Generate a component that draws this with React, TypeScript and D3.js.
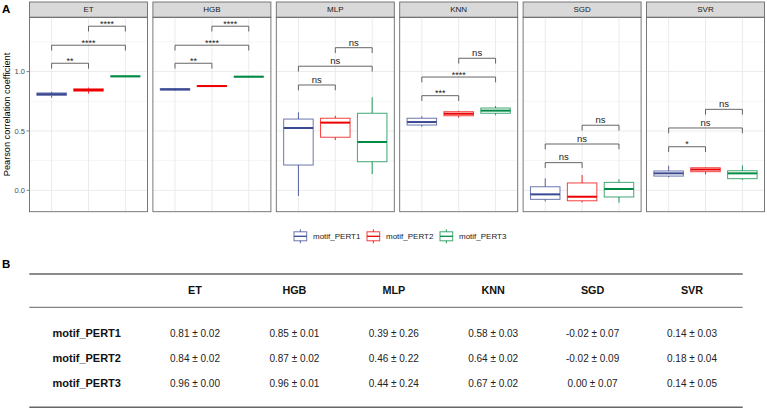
import React from "react";
import * as d3 from "d3";

const models = ["ET", "HGB", "MLP", "KNN", "SGD", "SVR"];
const groups = ["motif_PERT1", "motif_PERT2", "motif_PERT3"];
const colors = ["#3B4992", "#EE0000", "#008B45"];

// box stats per model: [lower whisker, q1, median, q3, upper whisker]
const pert1Stats = [
  [0.78, 0.80, 0.81, 0.82, 0.83],
  [0.84, 0.845, 0.85, 0.856, 0.86],
  [-0.048, 0.213, 0.525, 0.60, 0.657],
  [0.536, 0.55, 0.575, 0.607, 0.623],
  [-0.093, -0.076, -0.034, 0.03, 0.101],
  [0.11, 0.12, 0.143, 0.163, 0.207],
];
const pert2Stats = [
  [0.815, 0.835, 0.845, 0.855, 0.865],
  [0.87, 0.874, 0.878, 0.882, 0.886],
  [0.424, 0.447, 0.57, 0.607, 0.628],
  [0.612, 0.628, 0.645, 0.662, 0.67],
  [-0.101, -0.088, -0.054, 0.062, 0.129],
  [0.135, 0.157, 0.175, 0.19, 0.195],
];
const pert3Stats = [
  [0.955, 0.957, 0.96, 0.962, 0.965],
  [0.952, 0.955, 0.957, 0.959, 0.962],
  [0.137, 0.241, 0.407, 0.649, 0.783],
  [0.632, 0.649, 0.671, 0.693, 0.71],
  [-0.104, -0.056, 0.011, 0.067, 0.093],
  [0.087, 0.098, 0.143, 0.165, 0.21],
];
const allStats = [pert1Stats, pert2Stats, pert3Stats];

// significance brackets: pairs (1-2, 1-3, 2-3)
const bracketPairs = [[0, 1], [0, 2], [1, 2]];
const bracketHeights = [
  [1.07, 1.222, 1.382],
  [1.07, 1.222, 1.382],
  [0.887, 1.045, 1.201],
  [0.797, 0.954, 1.112],
  [0.233, 0.39, 0.548],
  [0.367, 0.525, 0.682],
];
const bracketLabels = [
  ["**", "****", "****"],
  ["**", "****", "****"],
  ["ns", "ns", "ns"],
  ["***", "****", "ns"],
  ["ns", "ns", "ns"],
  ["*", "ns", "ns"],
];

const yTicks = [0, 0.5, 1.0];
const yMinor = [0.25, 0.75, 1.25];

// table values
const tableMeans = [
  [0.81, 0.85, 0.39, 0.58, -0.02, 0.14],
  [0.84, 0.87, 0.46, 0.64, -0.02, 0.18],
  [0.96, 0.96, 0.44, 0.67, 0.0, 0.14],
];
const tableSds = [
  [0.02, 0.01, 0.26, 0.03, 0.07, 0.03],
  [0.02, 0.02, 0.22, 0.02, 0.09, 0.04],
  [0.0, 0.01, 0.24, 0.02, 0.07, 0.05],
];

const FONT = "'Liberation Sans', Arial, Helvetica, sans-serif";

export default function App() {
  const W = 767, H = 410;
  const panelLeft = 29.5;
  const panelW = 118;
  const panelGap = 5.4;
  const stripTop = 2;
  const panelTop = 17.3;
  const panelBottom = 211.7;

  const y = d3.scaleLinear().domain([-0.18, 1.457]).range([panelBottom, panelTop]);
  const panelX = d3
    .scaleBand()
    .domain(models)
    .range([panelLeft, panelLeft + 6 * panelW + 5 * panelGap])
    .paddingInner(panelGap / (panelW + panelGap));
  const xIn = d3.scalePoint().domain(groups).range([0, panelW]).padding(0.6);
  const step = xIn.step();
  const boxW = step * 0.8;

  const gridCol = "#EBEBEB";
  const borderCol = "#6b6b6b";

  // table layout
  const tLeft = 29.3, tRight = 742.7;
  const colX = d3.scalePoint().domain(models).range([195, 692]);
  const rowY = d3.scalePoint().domain(groups).range([333.5, 383.5]);

  // legend
  const legendKeyX = [294, 367, 440];

  return (
    <svg width={W} height={H} style={{ position: "absolute", left: 0, top: 0, background: "#fff" }} fontFamily={FONT}>
      <rect x={0} y={0} width={W} height={H} fill="#fff" />
      <text x={2} y={12.5} fontSize={11.5} fontWeight="bold">A</text>
      <text x={2} y={268} fontSize={11.5} fontWeight="bold">B</text>

      {/* y axis */}
      <text
        transform={`translate(9.5,${(panelTop + panelBottom) / 2}) rotate(-90)`}
        textAnchor="middle"
        fontSize={9.2}
        fill="#000"
      >
        Pearson correlation coefficient
      </text>
      {yTicks.map((t) => (
        <g key={t}>
          <line x1={panelLeft - 3} x2={panelLeft} y1={y(t)} y2={y(t)} stroke="#333" strokeWidth={0.6} />
          <text x={panelLeft - 4.5} y={y(t)} dy="0.35em" textAnchor="end" fontSize={7.5} fill="#4D4D4D">
            {t.toFixed(1)}
          </text>
        </g>
      ))}

      {models.map((m, mi) => {
        const px = panelX(m)!;
        return (
          <g key={m}>
            {/* strip */}
            <rect x={px} y={stripTop} width={panelW} height={panelTop - stripTop} fill="#D9D9D9" stroke={borderCol} strokeWidth={0.9} />
            <text x={px + panelW / 2} y={(stripTop + panelTop) / 2} dy="0.35em" textAnchor="middle" fontSize={8} fill="#1A1A1A">
              {m}
            </text>
            {/* grid */}
            {yMinor.map((t) => (
              <line key={"mn" + t} x1={px} x2={px + panelW} y1={y(t)} y2={y(t)} stroke={gridCol} strokeWidth={0.5} />
            ))}
            {yTicks.map((t) => (
              <line key={"mj" + t} x1={px} x2={px + panelW} y1={y(t)} y2={y(t)} stroke={gridCol} strokeWidth={1} />
            ))}
            {groups.map((g) => (
              <line key={"gx" + g} x1={px + xIn(g)!} x2={px + xIn(g)!} y1={panelTop} y2={panelBottom} stroke={gridCol} strokeWidth={1} />
            ))}
            {/* boxes */}
            {groups.map((g, gi) => {
              const [lo, q1, med, q3, hi] = allStats[gi][mi];
              const cx = px + xIn(g)!;
              const c = colors[gi];
              return (
                <g key={"b" + g}>
                  <line x1={cx} x2={cx} y1={y(hi)} y2={y(q3)} stroke={c} strokeWidth={1} strokeOpacity={0.85} />
                  <line x1={cx} x2={cx} y1={y(q1)} y2={y(lo)} stroke={c} strokeWidth={1} strokeOpacity={0.85} />
                  <rect x={cx - boxW / 2} y={y(q3)} width={boxW} height={Math.max(0, y(q1) - y(q3))} fill="#fff" stroke={c} strokeWidth={1} strokeOpacity={0.75} />
                  <line x1={cx - boxW / 2} x2={cx + boxW / 2} y1={y(med)} y2={y(med)} stroke={c} strokeWidth={2} />
                </g>
              );
            })}
            {/* brackets */}
            {bracketPairs.map(([a, b], bi) => {
              const x1 = px + xIn(groups[a])!;
              const x2 = px + xIn(groups[b])!;
              const yy = y(bracketHeights[mi][bi]);
              const lab = bracketLabels[mi][bi];
              return (
                <g key={"br" + bi}>
                  <path d={`M${x1},${yy + 5.3}V${yy}H${x2}V${yy + 5.3}`} fill="none" stroke="#555" strokeWidth={0.9} />
                  <text x={(x1 + x2) / 2} y={lab === "ns" ? yy - 2.2 : yy + 0.5} textAnchor="middle" fontSize={lab === "ns" ? 9.5 : 9} fill="#222">
                    {lab}
                  </text>
                </g>
              );
            })}
            {/* border */}
            <rect x={px} y={panelTop} width={panelW} height={panelBottom - panelTop} fill="none" stroke={borderCol} strokeWidth={0.9} />
          </g>
        );
      })}

      {/* legend */}
      {groups.map((g, gi) => {
        const kx = legendKeyX[gi];
        const kw = 12.7;
        const cy = 236.3;
        const c = colors[gi];
        return (
          <g key={"lg" + g}>
            <line x1={kx + kw / 2} x2={kx + kw / 2} y1={cy - 7} y2={cy + 7} stroke={c} strokeWidth={1} strokeOpacity={0.85} />
            <rect x={kx} y={cy - 4.5} width={kw} height={9} fill="#fff" stroke={c} strokeWidth={1} strokeOpacity={0.75} />
            <line x1={kx} x2={kx + kw} y1={cy} y2={cy} stroke={c} strokeWidth={1.3} />
            <text x={kx + 19} y={cy} dy="0.35em" fontSize={8} fill="#1A1A1A">{g}</text>
          </g>
        );
      })}

      {/* table */}
      <line x1={tLeft} x2={tRight} y1={274} y2={274} stroke="#666" strokeWidth={1.5} />
      <line x1={tLeft} x2={tRight} y1={307.3} y2={307.3} stroke="#666" strokeWidth={1} />
      <line x1={tLeft} x2={tRight} y1={407.3} y2={407.3} stroke="#666" strokeWidth={1.5} />
      {models.map((m) => (
        <text key={"th" + m} x={colX(m)!} y={290.7} dy="0.35em" textAnchor="middle" fontSize={10.8} fontWeight="bold" fill="#111">
          {m}
        </text>
      ))}
      {groups.map((g, gi) => (
        <g key={"tr" + g}>
          <text x={52.5} y={rowY(g)!} dy="0.35em" fontSize={11} fontWeight="bold" fill="#111">{g}</text>
          {models.map((m, mi) => (
            <text key={"td" + m} x={colX(m)!} y={rowY(g)!} dy="0.35em" textAnchor="middle" fontSize={10} fill="#222">
              {`${tableMeans[gi][mi].toFixed(2)} ± ${tableSds[gi][mi].toFixed(2)}`}
            </text>
          ))}
        </g>
      ))}
    </svg>
  );
}
